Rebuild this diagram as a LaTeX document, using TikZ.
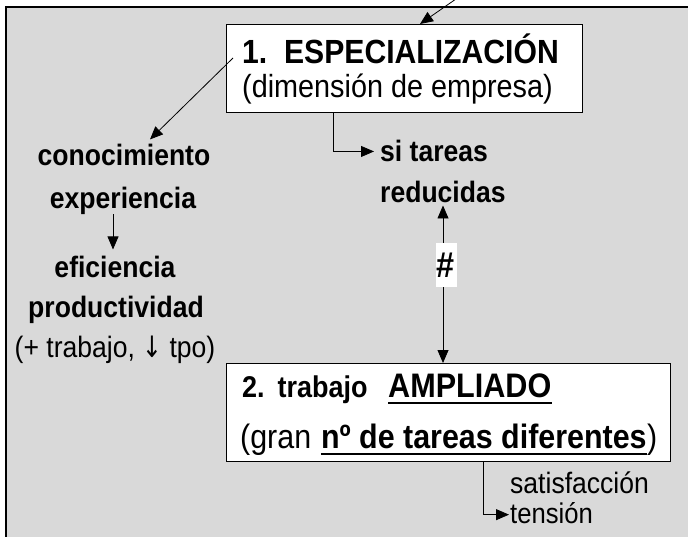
\documentclass[tikz,border=0pt]{standalone}
\usepackage{fontspec}
\setmainfont{Liberation Sans}[FakeStretch=0.9]
\newfontfamily\symf{DejaVu Sans}[FakeStretch=0.8]
\usetikzlibrary{arrows.meta}
\definecolor{bggray}{RGB}{217,217,217}
\newcommand{\fs}[1]{\fontsize{#1}{#1}\selectfont}
\begin{document}
\begin{tikzpicture}[x=1pt,y=-1pt,
  arr/.style={-{Triangle[length=13pt,width=11pt]}, line width=0.8pt},
  darr/.style={{Triangle[length=13pt,width=11pt]}-{Triangle[length=13pt,width=11pt]}, line width=0.8pt},
  box/.style={draw, fill=white, line width=1pt, anchor=north west, inner sep=0pt},
  txt/.style={inner sep=0pt, anchor=base west},
  ctxt/.style={inner sep=0pt, anchor=base},
  uline/.style={line width=2.4pt}]
\useasboundingbox (0,0) rectangle (688,536);
\fill[bggray] (6,7) rectangle (700,550);
\draw[line width=2.2pt] (6,550) -- (6,7) -- (700,7);

% box 1
\node[box, minimum width=356pt, minimum height=88pt] (b1) at (226,24) {};
\node[txt] (t1) at (242,63) {\fs{33.5}\bfseries 1.\ \ ESPECIALIZACIÓN};
\node[txt] (t1b) at (242,97) {\fs{32}(dimensión de empresa)};

% left column
\node[ctxt] (cono) at (124,165) {\fs{29.5}\bfseries conocimiento};
\node[ctxt] (expe) at (123,208) {\fs{29.5}\bfseries experiencia};
\node[ctxt] (efic) at (115,277) {\fs{29.5}\bfseries eficiencia};
\node[ctxt] (prod) at (116,317) {\fs{29.5}\bfseries productividad};
\node[ctxt] (tpo) at (115,357) {\fs{29.5}(+ trabajo, {\symf ↓} tpo)};

% right texts
\node[txt] (sita) at (380,161) {\fs{29.5}\bfseries si tareas};
\node[txt] (redu) at (380,202) {\fs{29.5}\bfseries reducidas};

% box 2
\node[box, minimum width=444pt, minimum height=98pt] (b2) at (226,363) {};
\node[txt] (t2a) at (242,397) {\fs{30}\bfseries 2.\hspace*{13pt}trabajo};
\node[txt] (t2b) at (388,397) {\fs{34}\bfseries AMPLIADO};
\draw[uline] ([yshift=-6pt]t2b.base west) -- ([yshift=-6pt]t2b.base east);
\node[txt] (t2c) at (240,448) {\fs{33.8}(gran\hspace*{0.28em}};
\node[txt] (t2d) at (t2c.base east) {\fs{33.8}\bfseries nº de tareas diferentes};
\draw[uline] ([yshift=-6pt]t2d.base west) -- ([yshift=-6pt]t2d.base east);
\node[txt] (t2e) at (t2d.base east) {\fs{33.8})};

\node[txt] (sati) at (510,493) {\fs{29.5}satisfacción};
\node[txt] (tens) at (510,523) {\fs{28.5}tensión};

% connectors
\coordinate (topsrc) at (466,-8);
\draw[arr] (topsrc) -- ([xshift=194pt]b1.north west);

\coordinate (b1l) at (233,58);
\draw[arr] (b1l) -- ([xshift=26pt,yshift=4pt]cono.north);

\coordinate (ax) at (113,0);
\draw[arr] (expe.south -| ax) -- ([yshift=6pt]efic.north -| ax);

\coordinate (bx) at (333,0);
\draw[arr] (b1.south -| bx) |- ([xshift=-6pt,yshift=-1pt]sita.west);

\coordinate (dx) at (443,0);
\draw[darr] ([yshift=-3pt]redu.south -| dx) -- (b2.north -| dx);
\node[fill=white, inner sep=0pt, text width=21pt, minimum height=44pt, align=center] (hash) at (446,265) {\fs{36}\bfseries \#};

\coordinate (ex) at (483,0);
\draw[arr] (b2.south -| ex) |- ([xshift=-1pt,yshift=-2pt]tens.west);
\end{tikzpicture}
\end{document}
